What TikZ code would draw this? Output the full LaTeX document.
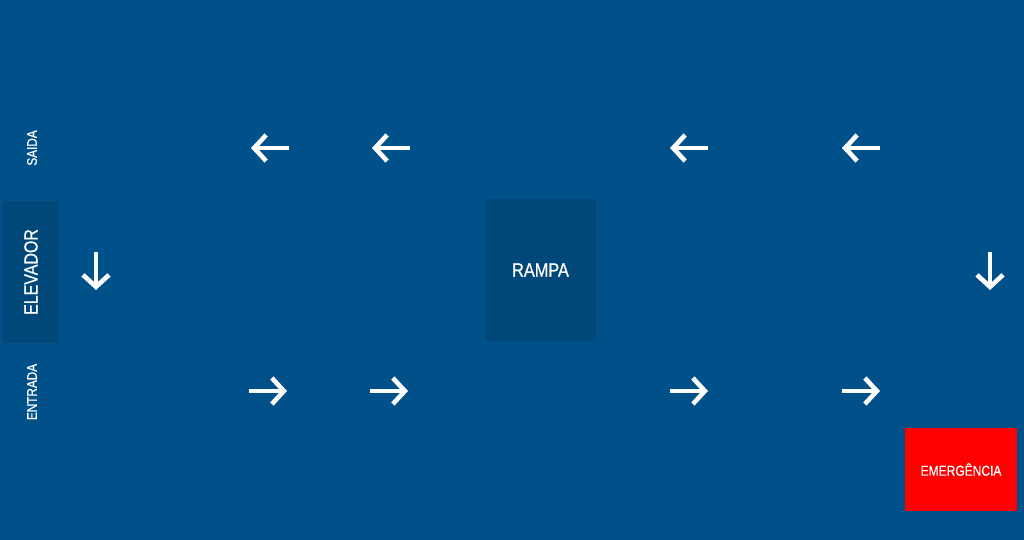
\documentclass[tikz,border=0pt]{standalone}
\usepackage{fontspec}
\setmainfont{Liberation Sans}[FakeBold=0.8]
\usetikzlibrary{positioning,arrows.meta}
\definecolor{planbg}{RGB}{0,81,138}
\definecolor{planbox}{RGB}{0,72,122}
\definecolor{planred}{RGB}{255,0,0}
\newcommand{\narrow}[1]{\scalebox{0.84}[1]{#1}}
\tikzset{room/.style={fill=planbox, draw=none, text=white, inner sep=0pt, align=center}}
\tikzset{sign/.style={text=white, inner sep=0pt, font=\fontsize{14}{14}\selectfont}}
\tikzset{way/.style={draw=white, line width=4.4pt, -{Straight Barb[length=12pt, width=26pt, line width=4.6pt]}}}
\begin{document}
\begin{tikzpicture}[x=1pt, y=-1pt]
			\fill[planbg] (0,0) rectangle (1024,540);
			\useasboundingbox (0,0) rectangle (1024,540);
			% elevador e acessos
			\node[room, minimum width=56pt, minimum height=142pt, font=\fontsize{19}{19}\selectfont] (elev) at (31,272) {\rotatebox{90}{\narrow{ELEVADOR}}};
			\node[sign] (saida) at (32,148) {\rotatebox{90}{\narrow{SAIDA}}};
			\node[sign] (entrada) at (32,392) {\rotatebox{90}{\narrow{ENTRADA}}};
			% rampa
			\node[room, minimum width=111pt, minimum height=142pt, font=\fontsize{19.4}{19.4}\selectfont] (rampa) at (540.5,270) {\narrow{RAMPA}};
			% emergencia
			\node[room, fill=planred, minimum width=112pt, minimum height=83pt, font=\fontsize{14.3}{14.3}\selectfont] (emerg) at (961,469.5) {\narrow{EMERGÊNCIA}};
			%
			\foreach \xa in {251,372,670,842}
				\draw[way] (\xa+38,148) -- (\xa,148);
			\foreach \xa in {249,370,670,842}
				\draw[way] (\xa,391) -- (\xa+38,391);
			\foreach \xa in {96,990}
				\draw[way] (\xa,252) -- (\xa,290);
		\end{tikzpicture}
\end{document}
